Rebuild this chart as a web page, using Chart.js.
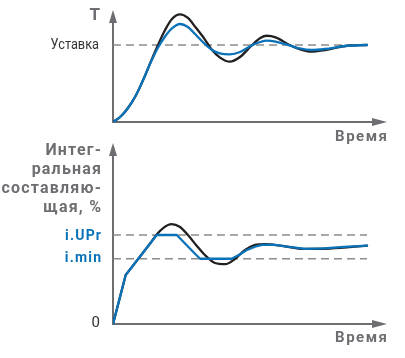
<!DOCTYPE html>
<html>
<head>
<meta charset="utf-8">
<script src="https://cdn.jsdelivr.net/npm/chart.js@4.4.0/dist/chart.umd.min.js"></script>
<style>
  html, body { margin: 0; background: #fff; }
  #wrap { position: relative; width: 405px; height: 358px; }
  canvas { position: absolute; left: 0; }
  #tempChart { top: 0; }
  #integralChart { top: 138px; }
</style>
</head>
<body>
<div id="wrap">
  <canvas id="tempChart" width="405" height="150"></canvas>
  <canvas id="integralChart" width="405" height="220"></canvas>
</div>
<script>
// time runs 0..100 over the drawn part of the process
const T_END = 100;

// temperature, in fractions of the setpoint
const SETPOINT = 1;
const timeTop   = [0, 2.8, 5.9, 9.1, 12.2, 15, 17.7, 20.5, 23.2, 26.4, 29.5, 32.5, 36, 39, 42, 46, 50, 54.5, 58, 60.5, 64, 69.5, 73.5, 78, 83.5, 91.5, 100];
const tempBlack = [0, 0.065, 0.182, 0.351, 0.571, 0.792, 1.0, 1.195, 1.338, 1.399, 1.351, 1.23, 1.08, 0.935, 0.84, 0.783, 0.844, 0.99, 1.09, 1.12, 1.1, 1.0, 0.945, 0.913, 0.935, 0.987, 1.0];
const tempBlue  = [0, 0.065, 0.182, 0.351, 0.571, 0.785, 0.965, 1.11, 1.215, 1.273, 1.234, 1.136, 1.019, 0.935, 0.892, 0.879, 0.909, 0.994, 1.039, 1.056, 1.045, 0.994, 0.955, 0.935, 0.948, 0.987, 1.0];

// integral term, %
const I_UPR = 60;
const I_MIN = 44;
const intBlackT = [0, 4.5, 5, 5.5, 10, 14.5, 17.3, 20, 23, 26.4, 29.5, 32.7, 36.2, 40.2, 44.1, 48, 52, 55.9, 59.8, 65.7, 75.6, 85.4, 100];
const intBlack  = [0, 29.7, 33, 34.1, 44.05, 54, 60.5, 65, 67.3, 65.4, 60, 53.3, 46.5, 41.1, 40.3, 43.8, 49.9, 53.3, 53.9, 52.9, 50.6, 50.9, 52.8];
const intBlueT  = [0, 5, 17.2, 25.1, 31.9, 34.3, 46.7, 49.5, 52.5, 55.9, 58.7, 63, 68, 75.6, 83, 91, 100];
const intBlue   = [0, 33, 60, 60, 48, 44, 44, 46.5, 49.7, 52.1, 53.3, 53.5, 52.3, 50.6, 51, 52, 52.8];

const BLACK = '#231f20';
const BLUE = '#0a72b8';
const AXIS = '#6d6e71';
const DASH = '#8c8c8c';
const TEXT = '#333333';

const pts = (xs, ys) => xs.map((x, i) => ({ x: x, y: ys[i] }));
const level = v => [{ x: 0, y: v }, { x: T_END, y: v }];

function dashed(v) {
  return { data: level(v), borderColor: DASH, borderWidth: 1.3, borderDash: [8, 5], pointRadius: 0, order: 3 };
}

// lower order is painted later, so blue ends up over black
function curve(data, color, smooth, order) {
  return {
    data: data, borderColor: color, borderWidth: 2.3, pointRadius: 0, order: order,
    cubicInterpolationMode: smooth ? 'monotone' : 'default', tension: 0,
    borderJoinStyle: 'round', borderCapStyle: 'round'
  };
}

function label(ctx, text, x, y, font, color, spacing, squeeze) {
  spacing = spacing || 0;
  squeeze = squeeze || 1;
  ctx.save();
  ctx.font = font;
  ctx.fillStyle = color;
  ctx.textAlign = 'right';
  ctx.textBaseline = 'middle';
  ctx.letterSpacing = spacing + 'px';
  ctx.translate(x + spacing, y);
  ctx.scale(squeeze, 1);
  ctx.fillText(text, 0, 0);
  ctx.restore();
}

// axis lines with arrow heads, drawn under the curves
const arrowAxes = {
  id: 'arrowAxes',
  beforeDatasetsDraw(chart) {
    const { ctx, chartArea: a } = chart;
    ctx.save();
    ctx.strokeStyle = AXIS;
    ctx.fillStyle = AXIS;
    ctx.lineWidth = 2;
    ctx.beginPath();
    ctx.moveTo(a.left, a.top + 10);
    ctx.lineTo(a.left, a.bottom);
    ctx.lineTo(a.right - 10, a.bottom);
    ctx.stroke();
    ctx.beginPath();
    ctx.moveTo(a.left, a.top);
    ctx.lineTo(a.left - 4, a.top + 13);
    ctx.lineTo(a.left + 4, a.top + 13);
    ctx.closePath();
    ctx.fill();
    ctx.beginPath();
    ctx.moveTo(a.right, a.bottom);
    ctx.lineTo(a.right - 15, a.bottom - 4);
    ctx.lineTo(a.right - 15, a.bottom + 4);
    ctx.closePath();
    ctx.fill();
    ctx.restore();
  }
};

function baseOptions(yMax, padding) {
  return {
    responsive: false,
    animation: false,
    devicePixelRatio: 1,
    layout: { padding: padding },
    plugins: { legend: { display: false }, tooltip: { enabled: false } },
    scales: {
      x: { type: 'linear', display: false, min: 0, max: T_END * 274 / 254 },
      y: { display: false, min: 0, max: yMax }
    }
  };
}

const TIME_FONT = 'bold 15px Roboto';
const LEVEL_FONT = 'bold 14px Roboto';

new Chart(document.getElementById('tempChart'), {
  type: 'line',
  data: {
    datasets: [
      dashed(SETPOINT),
      curve(pts(timeTop, tempBlack), BLACK, true, 2),
      curve(pts(timeTop, tempBlue), BLUE, true, 1)
    ]
  },
  options: baseOptions(112 / 77, { left: 113, right: 18, top: 10, bottom: 28 }),
  plugins: [arrowAxes, {
    id: 'tempLabels',
    afterDraw(chart) {
      const ctx = chart.ctx;
      const y = chart.scales.y;
      label(ctx, 'T', 100, 15.5, 'bold 17px Roboto', AXIS);
      label(ctx, 'Уставка', 99, y.getPixelForValue(SETPOINT), '14.5px Roboto', TEXT, 0, 0.88);
      label(ctx, 'Время', 387, 137.5, TIME_FONT, AXIS, 1.5);
    }
  }]
});

new Chart(document.getElementById('integralChart'), {
  type: 'line',
  data: {
    datasets: [
      dashed(I_UPR),
      dashed(I_MIN),
      curve(pts(intBlackT, intBlack), BLACK, true, 2),
      curve(pts(intBlueT, intBlue), BLUE, false, 1)
    ]
  },
  options: baseOptions(181 * I_UPR / 89, { left: 113, right: 18, top: 5, bottom: 34 }),
  plugins: [arrowAxes, {
    id: 'integralLabels',
    afterDraw(chart) {
      const ctx = chart.ctx;
      const y = chart.scales.y;
      ['Интег-', 'ральная', 'составляю-', 'щая, %'].forEach((line, i) => {
        label(ctx, line, 101, 12.5 + i * 19, 'bold 16px Roboto', AXIS, 1.2);
      });
      label(ctx, 'i.UPr', 101, y.getPixelForValue(I_UPR) + 1.5, LEVEL_FONT, BLUE, 1.2);
      label(ctx, 'i.min', 101, y.getPixelForValue(I_MIN), LEVEL_FONT, BLUE, 1.2);
      label(ctx, '0', 100, y.getPixelForValue(0) - 1, '15px Roboto', TEXT);
      label(ctx, 'Время', 387, 200, TIME_FONT, AXIS, 1.5);
    }
  }]
});
</script>
</body>
</html>
